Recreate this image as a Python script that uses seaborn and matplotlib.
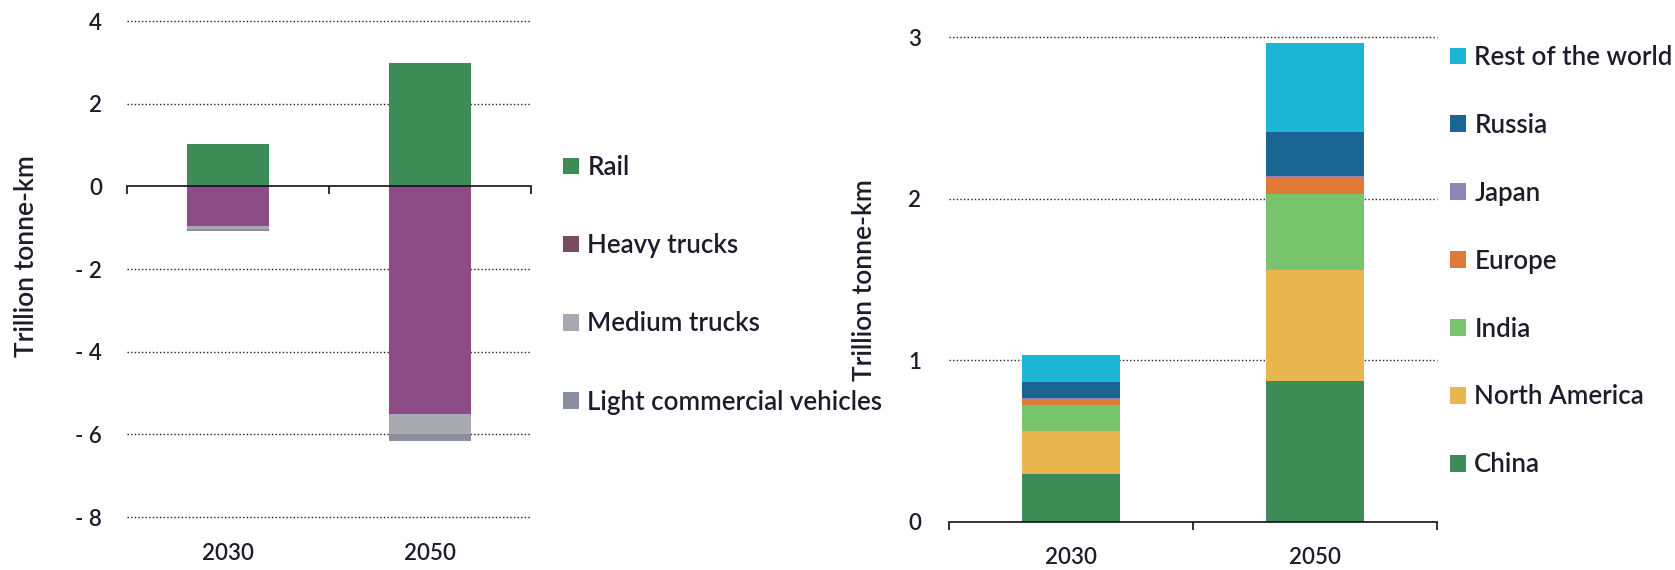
import numpy as np
import pandas as pd
import matplotlib
matplotlib.use("Agg")
import matplotlib.pyplot as plt
from matplotlib.patches import Patch
import seaborn as sns

sns.set_theme(style="white")
plt.rcParams["font.family"] = ["Lato", "DejaVu Sans"]

years = ["2030", "2050"]

# Change in freight activity by mode (trillion tonne-km)
mode_names = ["Rail", "Heavy trucks", "Medium trucks", "Light commercial vehicles"]
rail = [1.02, 2.98]
heavy_trucks = [-0.95, -5.50]
medium_trucks = [-0.08, -0.50]
light_commercial = [-0.04, -0.15]
mode_colors = ["#3d8c58", "#8c4d86", "#a9aab1", "#8a8e9e"]
mode_legend_colors = ["#3d8c58", "#7a4a5e", "#a9aab1", "#8a8e9e"]

# Rail activity by region (trillion tonne-km)
region_names = ["China", "North America", "India", "Europe", "Japan", "Russia", "Rest of the world"]
china = [0.30, 0.87]
north_america = [0.26, 0.69]
india = [0.165, 0.47]
europe = [0.035, 0.10]
japan = [0.005, 0.01]
russia = [0.10, 0.27]
rest_of_world = [0.165, 0.55]
region_colors = ["#3d8c58", "#e9b54f", "#78c46c", "#e07a38", "#8f86b6", "#1b6594", "#1cb6d4"]

left_ticks = [4, 2, 0, -2, -4, -6, -8]
left_ticklabels = ["4", "2", "0", "- 2", "- 4", "- 6", "- 8"]
right_ticks = [0, 1, 2, 3]
right_ticklabels = ["0", "1", "2", "3"]

text_color = "#1c1c2a"
tick_fs = 16
label_fs = 19
legend_fs = 18.6
weight = "semibold"

W, H = 1675, 570
fig = plt.figure(figsize=(W / 100, H / 100), dpi=100)
ax1 = fig.add_axes([127 / W, 1 - 517 / H, 404 / W, 496 / H])
ax2 = fig.add_axes([949 / W, 1 - 522 / H, 488 / W, 485 / H])


def stacked(ax, series, colors, width):
    # positive and negative values stack away from zero separately
    pos = np.zeros(len(years))
    neg = np.zeros(len(years))
    for vals, col in zip(series, colors):
        vals = np.asarray(vals, dtype=float)
        bottom = np.where(vals >= 0, pos, neg)
        df = pd.DataFrame({"year": years, "value": vals})
        sns.barplot(data=df, x="year", y="value", color=col, width=width,
                    bottom=bottom, ax=ax, saturation=1, errorbar=None,
                    linewidth=0, zorder=3)
        pos = pos + np.clip(vals, 0, None)
        neg = neg + np.clip(vals, None, 0)


def style_axis(ax, ticks, ticklabels, lim, pad_x, spine_at_zero):
    if spine_at_zero:
        ax.spines["bottom"].set_position(("data", 0))
    ax.set_ylim(*lim)
    ax.set_xlim(-0.5, 1.5)
    ax.set_yticks(ticks)
    ax.set_yticklabels(ticklabels, fontsize=tick_fs, color=text_color, fontweight=weight)
    for t in ticks:
        if t == 0:
            continue
        ax.axhline(t, color="#222222", linestyle=(0, (1, 1.6)), linewidth=1.0,
                   zorder=1, clip_on=False)
    for s in ["left", "right", "top"]:
        ax.spines[s].set_visible(False)
    ax.spines["bottom"].set_color("#111111")
    ax.spines["bottom"].set_linewidth(1.2)
    ax.spines["bottom"].set_zorder(4)
    ax.set_xticks([0, 1])
    ax.set_xticklabels(years, fontsize=tick_fs, color=text_color, fontweight=weight)
    ax.set_xticks([-0.5, 0.5, 1.5], minor=True)
    ax.tick_params(axis="x", which="major", length=0, pad=pad_x)
    ax.tick_params(axis="x", which="minor", length=6, width=1.2, color="#111111",
                   direction="out", bottom=True)
    ax.tick_params(axis="y", length=0)
    ax.set_xlabel("")
    ax.set_ylabel("Trillion tonne-km", fontsize=label_fs, color=text_color, fontweight=weight)
    ax.set_facecolor("white")


stacked(ax1, [rail, heavy_trucks, medium_trucks, light_commercial], mode_colors, 0.405)
style_axis(ax1, left_ticks, left_ticklabels, (-8, 4), 257, True)
ax1.tick_params(axis="y", pad=18)
ax1.yaxis.set_label_coords(-0.218, 0.526)

stacked(ax2, [china, north_america, india, europe, japan, russia, rest_of_world], region_colors, 0.40)
style_axis(ax2, right_ticks, right_ticklabels, (0, 3), 18, False)
ax2.tick_params(axis="y", pad=20)
ax2.yaxis.set_label_coords(-0.148, 0.499)

h1 = [Patch(facecolor=c, edgecolor="none") for c in mode_legend_colors]
fig.legend(h1, mode_names, loc="upper left", bbox_to_anchor=(563 / W, 1 - 155 / H),
           frameon=False, prop={"size": legend_fs, "weight": weight}, labelcolor=text_color,
           handlelength=0.62, handleheight=0.62, handletextpad=0.32, labelspacing=2.06,
           borderpad=0, borderaxespad=0)

h2 = [Patch(facecolor=c, edgecolor="none") for c in region_colors][::-1]
fig.legend(h2, region_names[::-1], loc="upper left", bbox_to_anchor=(1450 / W, 1 - 45 / H),
           frameon=False, prop={"size": legend_fs, "weight": weight}, labelcolor=text_color,
           handlelength=0.62, handleheight=0.62, handletextpad=0.32, labelspacing=1.66,
           borderpad=0, borderaxespad=0)

fig.savefig("out.png", dpi=100, facecolor="white")
